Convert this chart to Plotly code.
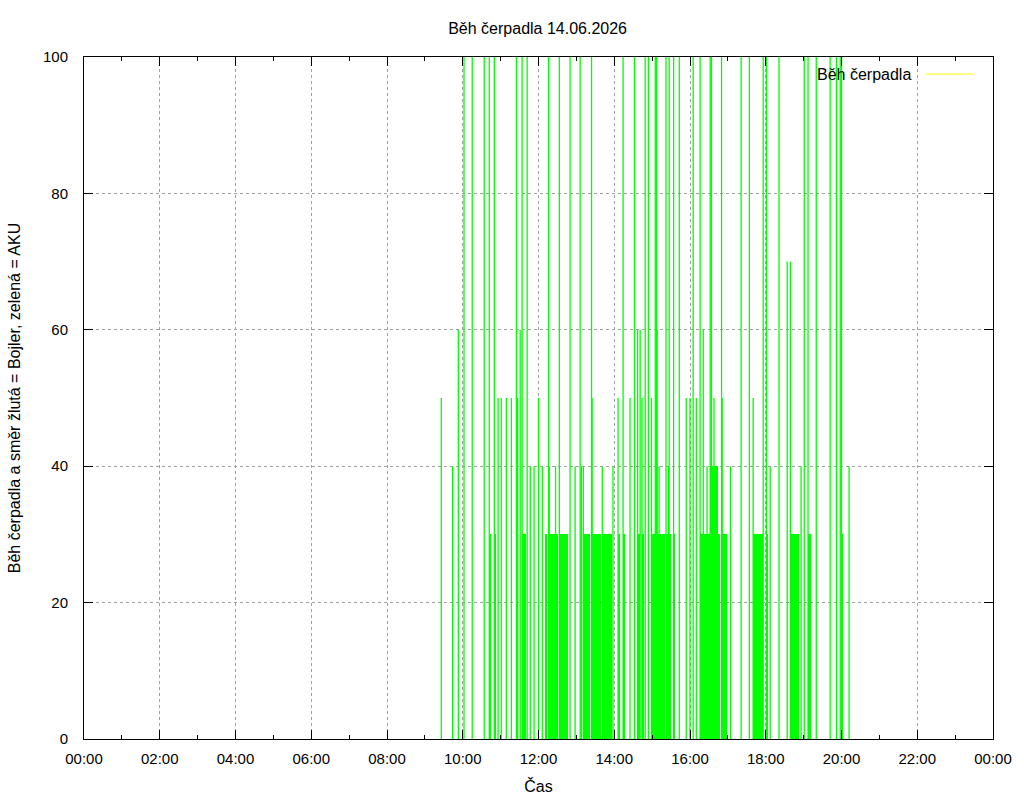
import pandas as pd
import plotly.graph_objects as go

DAY = "2026-06-14"
NEXT_DAY = "2026-06-15"
TITLE = "Běh čerpadla 14.06.2026"
Y_TITLE = "Běh čerpadla a směr žlutá = Bojler, zelená = AKU"
X_TITLE = "Čas"
LEGEND_NAME = "Běh čerpadla"

# single impulses (time of day, value)
pulse_times = [
    "09:26", "09:44", "09:53", "10:02", "10:15", "10:34", "10:42", "10:50",
    "10:56", "11:01", "11:09", "11:17", "11:25", "11:27", "11:31", "11:34",
    "11:42", "11:47", "11:53", "12:00", "12:06", "12:16", "12:17", "12:27",
    "12:33", "12:50", "12:58", "13:06", "13:08", "13:11", "13:24", "13:25",
    "13:41", "13:58", "14:06", "14:14", "14:25", "14:32", "14:37", "14:41",
    "14:44", "14:49", "14:54", "14:59", "15:05", "15:07", "15:08", "15:11",
    "15:22", "15:26", "15:27", "15:34", "15:43", "15:54", "16:00", "16:05",
    "16:10", "16:16", "16:21", "16:27", "16:32", "16:34", "16:38", "16:50",
    "16:51", "17:04", "17:21", "17:34", "17:40", "17:56", "18:01", "18:07",
    "18:21", "18:34", "18:39", "18:56", "19:01", "19:07", "19:20", "19:42",
    "19:52", "19:58", "20:00", "20:12",
]
pulse_values = [
    50, 40, 60, 100, 100, 100, 100, 100,
    50, 50, 50, 50, 100, 50, 60, 100,
    100, 40, 40, 50, 40, 100, 40, 40,
    100, 100, 40, 100, 40, 40, 100, 50,
    40, 40, 50, 100, 50, 100, 60, 60,
    50, 100, 100, 50, 100, 100, 60, 40,
    100, 40, 100, 100, 100, 50, 50, 100,
    50, 100, 60, 40, 100, 100, 50, 100,
    50, 40, 100, 100, 50, 100, 100, 40,
    100, 70, 70, 40, 100, 100, 100, 100,
    100, 100, 100, 40,
]

# continuous runs of samples (start, end, value)
run_starts = [
    "10:42", "10:50", "11:34", "12:11", "12:17", "12:33", "13:11", "13:24",
    "13:41", "14:06", "14:14", "14:37", "14:44", "14:59", "15:22", "15:27",
    "15:34", "16:16", "16:31", "16:50", "17:40", "18:01", "18:39", "19:07",
    "20:00",
]
run_ends = [
    "10:45", "10:52", "11:40", "12:13", "12:31", "12:46", "13:22", "13:39",
    "13:56", "14:09", "14:17", "14:40", "14:47", "15:20", "15:26", "15:30",
    "15:37", "16:48", "16:44", "16:59", "17:55", "18:04", "18:53", "19:11",
    "20:01",
]
run_values = [
    30, 30, 30, 30, 30, 30, 30, 30,
    30, 30, 30, 30, 30, 30, 30, 30,
    30, 30, 40, 30, 30, 30, 30, 30,
    30,
]

GREEN = "#00ff00"
YELLOW = "#ffff00"

px_ = []
py_ = []
for t, v in zip(pulse_times, pulse_values):
    ts = pd.Timestamp(f"{DAY} {t}")
    px_ += [ts, ts, None]
    py_ += [0, v, None]

starts = pd.to_datetime([f"{DAY} {t}" for t in run_starts])
ends = pd.to_datetime([f"{DAY} {t}" for t in run_ends])
mids = starts + (ends - starts) / 2
widths = [(e - s).total_seconds() * 1000 for s, e in zip(starts, ends)]

fig = go.Figure()
fig.add_trace(go.Bar(
    x=mids, y=run_values, width=widths, base=0,
    marker=dict(color=GREEN, line=dict(width=0)),
    showlegend=False, hoverinfo="skip",
))
fig.add_trace(go.Scatter(
    x=px_, y=py_, mode="lines",
    line=dict(color=GREEN, width=1.3),
    showlegend=False, hoverinfo="skip",
))

FONT = "Liberation Sans, Arial, sans-serif"

fig.update_layout(
    width=1024, height=800,
    margin=dict(l=84, r=31, t=57, b=61),
    paper_bgcolor="white", plot_bgcolor="white",
    font=dict(family=FONT, size=15, color="black"),
    title=dict(text=TITLE, x=0.525, xanchor="center", y=0.965, yanchor="middle",
               font=dict(size=16)),
    bargap=0,
    showlegend=False,
)

fig.update_xaxes(
    type="date", automargin=False,
    range=[f"{DAY} 00:00", f"{NEXT_DAY} 00:00"],
    dtick=7200000, tick0=f"{DAY} 00:00", tickformat="%H:%M",
    ticks="inside", ticklen=9, tickcolor="black", tickwidth=1,
    showline=True, linecolor="black", linewidth=1, mirror="allticks",
    showgrid=True, gridcolor="#a0a0a0", griddash="dot", gridwidth=1,
    minor=dict(dtick=3600000, ticks="inside", ticklen=4, tickcolor="black", showgrid=False),
    zeroline=False, ticklabelstandoff=6, tickfont=dict(size=15),
    title=dict(text=X_TITLE, standoff=14, font=dict(size=16)),
)
fig.update_yaxes(
    range=[0, 100], dtick=20, automargin=False,
    ticks="inside", ticklen=9, tickcolor="black", tickwidth=1,
    showline=True, linecolor="black", linewidth=1, mirror="allticks",
    showgrid=True, gridcolor="#a0a0a0", griddash="dot", gridwidth=1,
    zeroline=False, ticklabelstandoff=12, tickfont=dict(size=15),
    title=dict(text=Y_TITLE, standoff=18, font=dict(size=16)),
)

# gnuplot-style key: text then line sample
fig.add_annotation(
    xref="paper", yref="paper", x=0.912, y=0.975,
    text=LEGEND_NAME, showarrow=False, xanchor="right", yanchor="middle",
    font=dict(size=16),
)
fig.add_shape(
    type="line", xref="paper", yref="paper",
    x0=0.926, x1=0.979, y0=0.975, y1=0.975,
    line=dict(color=YELLOW, width=1),
)

fig.write_html("out.html")
